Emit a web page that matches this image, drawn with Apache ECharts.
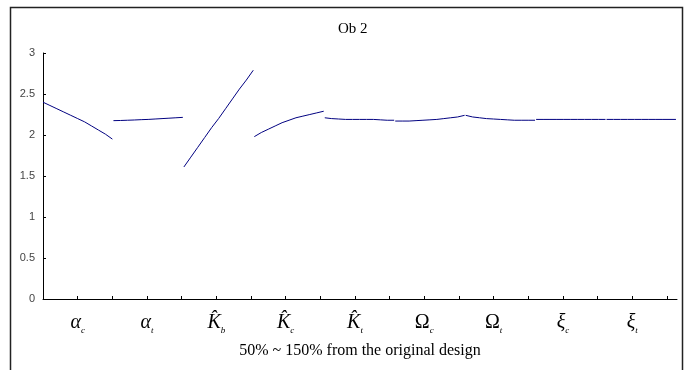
<!DOCTYPE html>
<html>
<head>
<meta charset="utf-8">
<script src="https://cdn.jsdelivr.net/npm/echarts@6/dist/echarts.min.js"></script>
<style>html,body{margin:0;padding:0;background:#fff}#c{width:693px;height:370px}</style>
</head>
<body>
<div id="c"></div>
<script>
// Category labels: [main symbol, subscript, upright?]
var categories = [
  ['\u03B1', 'c', false],
  ['\u03B1', 't', false],
  ['K\u0302', 'b', false],
  ['K\u0302', 'c', false],
  ['K\u0302', 't', false],
  ['\u03A9', 'c', true],
  ['\u03A9', 't', true],
  ['\u03BE', 'c', false],
  ['\u03BE', 't', false]
];
// Each group: 11 points, 50% .. 150% of the original design
var alphaC = [2.40, 2.36, 2.32, 2.28, 2.24, 2.20, 2.16, 2.11, 2.06, 2.01, 1.95];
var alphaT = [2.175, 2.177, 2.18, 2.183, 2.187, 2.19, 2.195, 2.20, 2.205, 2.21, 2.215];
var kB     = [1.61, 1.73, 1.85, 1.97, 2.09, 2.20, 2.32, 2.44, 2.56, 2.67, 2.79];
var kC     = [1.98, 2.03, 2.07, 2.11, 2.15, 2.18, 2.21, 2.23, 2.25, 2.27, 2.29];
var kT     = [2.21, 2.20, 2.195, 2.19, 2.19, 2.19, 2.19, 2.19, 2.185, 2.18, 2.18];
var omegaC = [2.17, 2.17, 2.17, 2.175, 2.18, 2.185, 2.19, 2.20, 2.21, 2.22, 2.24];
var omegaT = [2.24, 2.22, 2.21, 2.20, 2.195, 2.19, 2.185, 2.18, 2.18, 2.18, 2.18];
var xiC    = [2.19, 2.19, 2.19, 2.19, 2.19, 2.19, 2.19, 2.19, 2.19, 2.19, 2.19];
var xiT    = [2.19, 2.19, 2.19, 2.19, 2.19, 2.19, 2.19, 2.19, 2.19, 2.19, 2.19];
var groups = [alphaC, alphaT, kB, kC, kT, omegaC, omegaT, xiC, xiT];
var yTicks = [0, 0.5, 1, 1.5, 2, 2.5, 3];
var titleText = 'Ob 2';
var xName = '50% ~ 150% from the original design';

var chart = echarts.init(document.getElementById('c'));
var series = groups.map(function (vals, gi) {
  return {
    type: 'line',
    xAxisIndex: 0,
    showSymbol: false,
    silent: true,
    lineStyle: { color: '#000080', width: 1 },
    data: vals.map(function (v, k) { return [gi + (k / (vals.length - 1)) * 0.985, v]; })
  };
});

var serif = 'Liberation Serif, Times New Roman, serif';
chart.setOption({
  animation: false,
  title: {
    text: titleText, left: 333, top: 17,
    textStyle: { fontFamily: serif, fontSize: 15, fontWeight: 'normal', color: '#000' }
  },
  graphic: [{
    type: 'rect', z: -1, silent: true,
    shape: { x: 10.5, y: 7.5, width: 672, height: 400 },
    style: { fill: 'none', stroke: '#222', lineWidth: 1.5 }
  }],
  grid: { left: 43, right: 16, top: 53, bottom: 71 },
  xAxis: [{
    type: 'value', min: 0, max: groups.length, show: false
  }, {
    type: 'value', min: 0, max: 18.29, interval: 1,
    position: 'bottom',
    name: xName, nameLocation: 'middle', nameGap: 44,
    nameTextStyle: { fontFamily: serif, fontSize: 16, color: '#000' },
    axisLine: { show: true, lineStyle: { color: '#000', width: 1 } },
    axisTick: { show: true, inside: true, length: 3, lineStyle: { color: '#000' } },
    splitLine: { show: false },
    axisLabel: {
      margin: 14,
      showMaxLabel: false,
      formatter: function (v) {
        if (v % 2 !== 1) return '';
        var c = categories[(v - 1) / 2];
        if (!c) return '';
        return '{' + (c[2] ? 'u' : 'm') + '|' + c[0] + '}{s|' + c[1] + '}';
      },
      rich: {
        m: { fontFamily: serif, fontStyle: 'italic', fontSize: 20, color: '#000', verticalAlign: 'top', lineHeight: 22, padding: [0, 0, 1, 0] },
        u: { fontFamily: serif, fontStyle: 'normal', fontSize: 20, color: '#000', verticalAlign: 'top', lineHeight: 22, padding: [0, 0, 1, 0] },
        s: { fontFamily: serif, fontStyle: 'italic', fontSize: 9, color: '#000', verticalAlign: 'bottom', lineHeight: 10 }
      }
    }
  }],
  yAxis: {
    type: 'value', min: yTicks[0], max: yTicks[yTicks.length - 1], interval: 0.5,
    axisLine: { show: true, lineStyle: { color: '#000', width: 1 } },
    axisTick: { show: true, inside: true, length: 3, lineStyle: { color: '#000' } },
    splitLine: { show: false },
    axisLabel: { margin: 8, fontFamily: 'Liberation Sans, Arial, sans-serif', fontSize: 11, color: '#444' }
  },
  series: series
});
</script>
</body>
</html>
